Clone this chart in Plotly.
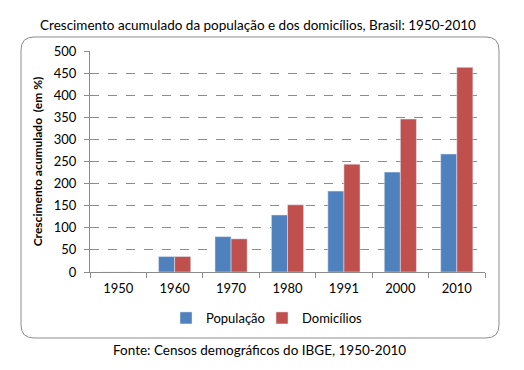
import plotly.graph_objects as go

anos = ["1950", "1960", "1970", "1980", "1991", "2000", "2010"]
populacao = [0, 35, 80, 129, 183, 226, 267]
domicilios = [0, 35, 75, 152, 244, 346, 463]

W, H = 524, 370
L, R, T, B = 90, 39, 51, 98
pw, ph = W - L - R, H - T - B

FONT = "Lato"

fig = go.Figure()
fig.add_bar(x=anos, y=populacao, name="População", marker_color="#4F81BD", legend="legend")
fig.add_bar(x=anos, y=domicilios, name="Domicílios", marker_color="#C0504D", legend="legend2")


def px2paper(x, y):
    return ((x - L) / pw, (H - B - y) / ph)


def rounded_rect(x0, y0, x1, y1, r):
    def P(x, y):
        a, b = px2paper(x, y)
        return f"{a:.5f},{b:.5f}"
    d = f"M {P(x0 + r, y0)} L {P(x1 - r, y0)} Q {P(x1, y0)} {P(x1, y0 + r)} "
    d += f"L {P(x1, y1 - r)} Q {P(x1, y1)} {P(x1 - r, y1)} "
    d += f"L {P(x0 + r, y1)} Q {P(x0, y1)} {P(x0, y1 - r)} "
    d += f"L {P(x0, y0 + r)} Q {P(x0, y0)} {P(x0 + r, y0)} Z"
    return d


fig.add_shape(type="path", xref="paper", yref="paper",
              path=rounded_rect(21, 37, 499, 338, 13),
              line=dict(color="#8C8C8C", width=1), layer="above")

leg_common = dict(orientation="h", xref="container", xanchor="left",
                  y=1 - 318 / H, yref="container", yanchor="middle",
                  font=dict(size=13), itemwidth=30, bgcolor="rgba(0,0,0,0)")

fig.update_layout(
    width=W, height=H,
    margin=dict(l=L, r=R, t=T, b=B, autoexpand=False),
    paper_bgcolor="white", plot_bgcolor="white",
    font=dict(family=FONT, size=13, color="black"),
    barmode="group", bargap=0.43, bargroupgap=0,
    title=dict(text="Crescimento acumulado da população e dos domicílios, Brasil: 1950-2010",
               x=258 / W, xanchor="center", y=1 - 25 / H, yanchor="middle",
               font=dict(family=FONT, size=13.5, color="black")),
    legend=dict(x=166 / W, **leg_common),
    legend2=dict(x=262 / W, **leg_common),
    showlegend=True,
)
fig.update_xaxes(showline=True, linecolor="#8C8C8C", linewidth=1, automargin=False,
                 ticks="outside", tickson="boundaries", ticklen=5, tickcolor="#8C8C8C",
                 showgrid=False, tickfont=dict(size=13), ticklabelstandoff=4)
fig.update_yaxes(range=[0, 500], dtick=50, showline=True, linecolor="#8C8C8C", linewidth=1,
                 automargin=False,
                 ticks="outside", ticklen=5, tickcolor="#8C8C8C", ticklabelstandoff=5,
                 showgrid=True, gridcolor="#8C8C8C", griddash="dash", gridwidth=1,
                 zeroline=False, tickfont=dict(size=13),
                 title=dict(text="<b>Crescimento acumulado  (em %)</b>", font=dict(size=12), standoff=8))

fig.add_annotation(text="Fonte: Censos demográficos do IBGE, 1950-2010", xref="paper", yref="paper",
                   x=px2paper(259, 0)[0], y=px2paper(0, 350)[1],
                   xanchor="center", yanchor="middle", showarrow=False,
                   font=dict(family=FONT, size=13.5, color="black"))

fig.write_html("out.html", post_script="document.body.style.margin='0';",
               config={"displayModeBar": False})
